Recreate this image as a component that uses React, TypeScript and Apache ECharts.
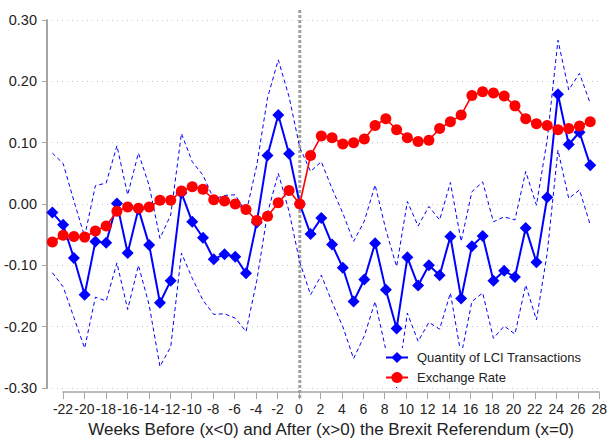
import React, { useEffect, useRef } from "react";
import * as echarts from "echarts";

const weeks = [
  -23, -22, -21, -20, -19, -18, -17, -16, -15, -14, -13, -12, -11, -10, -9, -8, -7, -6, -5, -4, -3, -2, -1,
  0, 1, 2, 3, 4, 5, 6, 7, 8, 9, 10, 11, 12, 13, 14, 15, 16, 17, 18, 19, 20, 21, 22, 23, 24, 25, 26, 27,
];

const quantity = [
  -0.014, -0.034, -0.088, -0.148, -0.061, -0.063, 0.001, -0.08, -0.008, -0.067, -0.161, -0.125, 0.018, -0.029,
  -0.055, -0.09, -0.082, -0.086, -0.113, -0.03, 0.079, 0.145, 0.082, 0.0, -0.049, -0.023, -0.066, -0.104, -0.159,
  -0.123, -0.064, -0.14, -0.203, -0.087, -0.133, -0.1, -0.116, -0.053, -0.154, -0.069, -0.052, -0.125, -0.109,
  -0.119, -0.039, -0.095, 0.011, 0.179, 0.097, 0.117, 0.063,
];

const quantityUpper = [
  0.083, 0.066, 0.005, -0.053, 0.03, 0.034, 0.095, 0.015, 0.083, 0.03, -0.056, -0.018, 0.115, 0.069, 0.047, 0.008,
  0.014, 0.015, -0.015, 0.063, 0.173, 0.235, 0.175, 0.092, 0.053, 0.069, 0.025, -0.015, -0.061, -0.028, 0.031,
  -0.042, -0.102, 0.004, -0.036, -0.004, -0.026, 0.035, -0.061, 0.02, 0.036, -0.029, -0.021, -0.026, 0.053, -0.002,
  0.105, 0.267, 0.186, 0.213, 0.164,
];

const quantityLower = [
  -0.112, -0.135, -0.185, -0.235, -0.152, -0.158, -0.096, -0.172, -0.1, -0.165, -0.265, -0.233, -0.08, -0.121,
  -0.157, -0.18, -0.179, -0.186, -0.208, -0.125, -0.015, 0.05, -0.012, -0.095, -0.148, -0.116, -0.16, -0.2, -0.252,
  -0.215, -0.159, -0.238, -0.3, -0.178, -0.224, -0.193, -0.204, -0.145, -0.247, -0.159, -0.145, -0.219, -0.199,
  -0.212, -0.132, -0.189, -0.08, 0.088, 0.009, 0.023, -0.034,
];

const exchangeRate = [
  -0.062, -0.051, -0.053, -0.054, -0.044, -0.036, -0.012, -0.005, -0.007, -0.005, 0.006, 0.006, 0.021, 0.028, 0.024,
  0.007, 0.005, 0.0, -0.009, -0.027, -0.02, 0.002, 0.022, 0.0, 0.079, 0.111, 0.108, 0.098, 0.1, 0.106, 0.128, 0.139,
  0.121, 0.108, 0.102, 0.104, 0.123, 0.134, 0.145, 0.177, 0.183, 0.181, 0.176, 0.16, 0.139, 0.131, 0.128, 0.121,
  0.123, 0.127, 0.134,
];

const seriesNames = ["Quantity of LCI Transactions", "Exchange Rate"];
const xTitle = "Weeks Before (x<0) and After (x>0) the Brexit Referendum (x=0)";

const FONT = "'Liberation Sans', Arial, Helvetica, sans-serif";
const BLUE = "#0000ff";
const RED = "#ff0000";
const AXIS_GRAY = "#a6a6a6";

export default function App() {
  const ref = useRef<HTMLDivElement>(null);

  useEffect(() => {
    if (!ref.current) return;
    const chart = echarts.init(ref.current, undefined, { renderer: "svg" });
    const pair = (vals: number[]) => weeks.map((w, i) => [w, vals[i]]);

    const option: any = {
      animation: false,
      backgroundColor: "#ffffff",
      textStyle: { fontFamily: FONT },
      grid: [
        { left: 47, right: 9, top: 20, bottom: 55 },
        { left: 63, right: 9, top: 20, bottom: 55 },
      ],
      xAxis: [
        {
          type: "value",
          gridIndex: 0,
          min: -23.5,
          max: 28,
          show: false,
          splitLine: { show: false },
        },
        {
          type: "value",
          gridIndex: 1,
          min: -22,
          max: 28,
          interval: 2,
          offset: 13,
          axisLine: { show: true, onZero: false, lineStyle: { color: AXIS_GRAY, width: 1.5 } },
          axisTick: { show: true, length: 7, lineStyle: { color: AXIS_GRAY, width: 1 } },
          axisLabel: { fontSize: 14, color: "#222", fontFamily: FONT, margin: 10 },
          splitLine: { show: false },
          name: xTitle,
          nameLocation: "middle",
          nameGap: 25,
          nameTextStyle: { fontSize: 17, color: "#222", fontFamily: FONT },
        },
      ],
      yAxis: [
        {
          type: "value",
          gridIndex: 0,
          min: -0.3,
          max: 0.3,
          interval: 0.1,
          axisLine: { show: true, onZero: false, lineStyle: { color: AXIS_GRAY, width: 2 } },
          axisTick: { show: true, length: 5, lineStyle: { color: AXIS_GRAY, width: 1 } },
          axisLabel: {
            fontSize: 14.5,
            color: "#222",
            fontFamily: FONT,
            margin: 10,
            formatter: (v: number) => (Math.abs(v) < 1e-9 ? "0.00" : v.toFixed(2)),
          },
          splitLine: { show: true, lineStyle: { color: "#c8c8c8", width: 1, type: [1, 4] } },
        },
        { type: "value", gridIndex: 1, min: -0.3, max: 0.3, show: false, splitLine: { show: false } },
      ],
      legend: {
        data: seriesNames,
        orient: "vertical",
        left: 383,
        top: 348,
        padding: [3, 6, 3, 2],
        itemWidth: 22,
        itemHeight: 14,
        itemGap: 7,
        backgroundColor: "#ffffff",
        textStyle: { fontSize: 13, color: "#222", fontFamily: FONT, padding: [0, 0, 0, 4] },
      },
      series: [
        {
          name: "upper",
          type: "line",
          xAxisIndex: 0,
          yAxisIndex: 0,
          data: pair(quantityUpper),
          symbol: "none",
          lineStyle: { color: BLUE, width: 1, type: [4, 3] },
          z: 2,
        },
        {
          name: "lower",
          type: "line",
          xAxisIndex: 0,
          yAxisIndex: 0,
          data: pair(quantityLower),
          symbol: "none",
          lineStyle: { color: BLUE, width: 1, type: [4, 3] },
          z: 2,
        },
        {
          name: seriesNames[0],
          type: "line",
          xAxisIndex: 0,
          yAxisIndex: 0,
          data: pair(quantity),
          symbol: "diamond",
          symbolSize: 12,
          color: BLUE,
          lineStyle: { color: BLUE, width: 2 },
          itemStyle: { color: BLUE },
          z: 3,
        },
        {
          name: seriesNames[1],
          type: "line",
          xAxisIndex: 0,
          yAxisIndex: 0,
          data: pair(exchangeRate),
          symbol: "circle",
          symbolSize: 11,
          color: RED,
          lineStyle: { color: RED, width: 1.6 },
          itemStyle: { color: RED },
          z: 4,
        },
      ],
    };
    chart.setOption(option);

    const x0 = chart.convertToPixel({ xAxisIndex: 0 }, 0) as number;
    const yTop = chart.convertToPixel({ yAxisIndex: 0 }, 0.3) as number;
    const yBottom = chart.convertToPixel({ yAxisIndex: 0 }, -0.3) as number;
    chart.setOption({
      graphic: [
        {
          type: "line",
          z: 1,
          shape: { x1: x0, y1: yTop - 10, x2: x0, y2: yBottom + 12 },
          style: { stroke: "#a0a0a0", lineWidth: 3, lineDash: [3, 2] },
        },
      ],
    });

    return () => chart.dispose();
  }, []);

  return (
    <div
      ref={ref}
      style={{ position: "absolute", left: 0, top: 0, width: 610, height: 443, background: "#fff" }}
    />
  );
}
